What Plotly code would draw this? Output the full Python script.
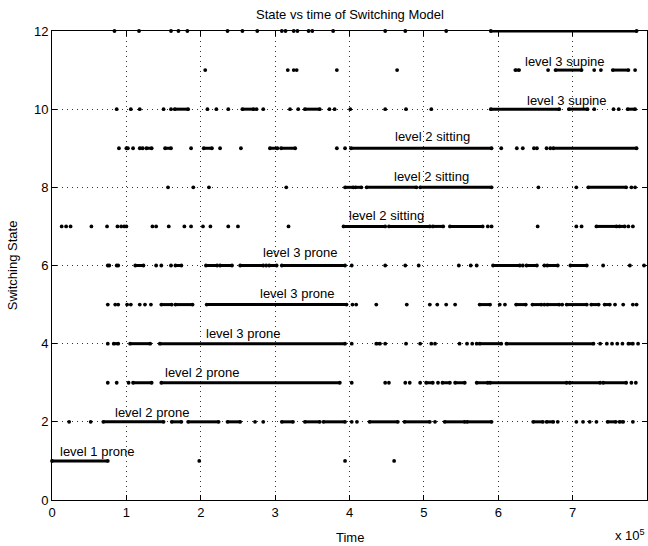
import plotly.graph_objects as go

# x values in units of 1e5 (axis shows "x 10^5"); a tuple is a dense run (start, end), a number is a single sample
x_ticks = [0, 1, 2, 3, 4, 5, 6, 7, 8]
y_ticks = [0, 2, 4, 6, 8, 10, 12]

state_1 = [(0.0, 0.75), 1.98, 3.94, 4.60]
state_2 = [0.23, 0.52, (0.69, 1.50), (1.61, 1.74), (1.83, 2.24), (2.36, 2.53), 2.73, 2.84,
           (3.09, 3.24), (3.40, 3.60), (3.65, 3.94), 4.03, 4.10, (4.27, 4.65), (4.74, 5.08), 5.15,
           (5.28, 5.55), (5.58, 5.91), (6.47, 6.60), (6.65, 6.74), 6.80, 7.05, 7.14, 7.23, 7.32,
           (7.47, 7.58), (7.63, 7.68), 7.81]
state_3 = [0.75, 0.87, 1.03, (1.09, 1.34), (1.47, 3.87), 4.03, 4.48, 4.53, 4.75, 4.81, 4.95,
           (5.03, 5.12), 5.19, (5.25, 5.35), (5.42, 5.55), (5.71, 5.86), (5.89, 6.92),
           (6.96, 7.37), (7.41, 7.72), 7.79, 7.85]
state_4 = [0.75, (0.83, 0.89), (1.05, 1.32), (1.45, 3.94), 4.03, (4.36, 4.41), 4.48, 4.76, 4.95,
           5.10, 5.15, 5.48, 5.58, 5.65, 5.71, (5.75, 6.04), (6.11, 7.28), 7.37, 7.46, 7.53,
           7.60, 7.67, (7.75, 7.81), 7.88]
state_5 = [0.75, 0.85, 0.89, 1.01, 1.06, 1.18, 1.25, 1.33, (1.47, 1.61), (1.66, 1.89),
           (2.08, 3.96), 4.04, 4.09, 4.36, 4.77, 5.08, 5.18, 5.30, 5.42, (5.75, 5.89), 6.02,
           6.09, (6.24, 6.37), (6.46, 6.58), 6.62, (6.66, 6.82), 6.86, (6.92, 7.19),
           (7.25, 7.35), (7.43, 7.50), 7.57, 7.68, 7.81, 7.86]
state_6 = [(0.75, 0.77), 0.87, 0.89, (1.12, 1.23), 1.40, 1.47, 1.60, (1.66, 1.74), (2.07, 2.22),
           (2.26, 2.42), (2.53, 2.84), 2.88, (2.92, 3.02), (3.09, 3.94), 4.03, 4.48, 4.75, 4.93,
           5.47, 5.63, 5.71, (5.93, 6.29), 6.33, (6.38, 6.52), 6.62, (6.66, 6.80), (6.97, 7.19),
           7.41, 7.77, 7.96]
state_7 = [0.13, 0.19, 0.25, 0.53, 0.74, 0.88, 0.93, 0.97, 1.00, 1.35, 1.40, 1.57, 1.78, 1.87,
           2.03, 2.13, 2.37, 2.50, 3.18, (3.92, 4.48), (4.53, 5.08), (5.12, 5.26), (5.35, 5.79),
           5.86, 5.91, 6.53, 7.05, 7.12, (7.32, 7.59), (7.63, 7.70), 7.75, 7.81]
state_8 = [1.56, 1.90, 2.11, 3.15, (3.94, 4.05), (4.08, 4.16), (4.23, 4.90), (4.95, 5.91), 6.54,
           7.05, (7.21, 7.72), 7.79, 7.84]
state_9 = [0.90, 1.00, 1.02, 1.09, (1.18, 1.22), (1.27, 1.34), (1.52, 1.60), 1.87, (2.04, 2.15),
           2.26, 2.54, (2.93, 3.03), (3.08, 3.27), 3.83, 3.94, (4.02, 5.91), 6.04, 6.25, 6.33,
           6.48, 6.52, 6.65, 6.70, (6.74, 7.86)]
state_10 = [0.87, 1.06, 1.18, 1.50, 1.60, (1.65, 1.83), 2.09, 2.21, 2.37, (2.56, 2.71), 2.75, 2.84,
            3.20, 3.31, (3.40, 3.60), 3.73, 3.80, 4.01, 4.48, 4.76, 5.10, (5.90, 6.82),
            (6.95, 7.20), 7.29, 7.55, 7.62, (7.74, 7.84)]
state_11 = [2.06, 3.17, 3.25, 3.29, 3.83, 4.64, (6.23, 6.28), 6.67, (6.77, 7.12), 7.29, 7.38,
            (7.54, 7.75), 7.84]
state_12 = [0.84, 1.17, 1.60, 1.70, 1.82, 2.36, 2.56, 2.76, 3.09, 3.14, 3.25, 3.30, 3.45, 3.50,
            3.78, 4.48, 4.75, 5.30, (5.90, 7.86)]

states = {1: state_1, 2: state_2, 3: state_3, 4: state_4, 5: state_5, 6: state_6,
          7: state_7, 8: state_8, 9: state_9, 10: state_10, 11: state_11, 12: state_12}

label_text = ["level 1 prone", "level 2 prone", "level 2 prone", "level 3 prone", "level 3 prone",
              "level 3 prone", "level 2 sitting", "level 2 sitting", "level 2 sitting",
              "level 3 supine", "level 3 supine", "level 3 supine"]
label_x = [0.61, 1.34, 2.02, 2.57, 3.30, 3.33, 4.50, 5.10, 5.12, 6.92, 6.90, 6.83]
label_y = [1.24, 2.24, 3.26, 4.26, 5.29, 6.33, 7.29, 8.29, 9.31, 10.23, 11.23, 12.28]

FONT = "Liberation Sans, Arial, Helvetica, sans-serif"
FS = 13

fig = go.Figure()
for lvl, segs in states.items():
    xs, ys = [], []
    for s in segs:
        if isinstance(s, tuple):
            xs += [s[0], s[1], None]
            ys += [lvl, lvl, None]
        else:
            xs += [s, None]
            ys += [lvl, None]
    fig.add_trace(go.Scatter(x=xs, y=ys, mode="lines+markers",
                             line=dict(color="black", width=3),
                             marker=dict(color="black", size=3.8),
                             showlegend=False, cliponaxis=False, connectgaps=False))

for t, x, y in zip(label_text, label_x, label_y):
    fig.add_annotation(x=x, y=y, text=t, showarrow=False, xanchor="center", yanchor="middle",
                       font=dict(family=FONT, size=FS, color="black"))

# title, axis titles, exponent
fig.add_annotation(xref="paper", yref="paper", x=0.5, y=1.036, text="State vs time of Switching Model",
                   showarrow=False, xanchor="center", yanchor="middle",
                   font=dict(family=FONT, size=FS, color="black"))
fig.add_annotation(xref="paper", yref="paper", x=0.5, y=-0.079, text="Time",
                   showarrow=False, xanchor="center", yanchor="middle",
                   font=dict(family=FONT, size=FS, color="black"))
fig.add_annotation(xref="paper", yref="paper", x=-0.066, y=0.5, text="Switching State",
                   showarrow=False, xanchor="center", yanchor="middle", textangle=-90,
                   font=dict(family=FONT, size=FS, color="black"))
fig.add_annotation(xref="paper", yref="paper", x=0.972, y=-0.075, text="x 10<sup>5</sup>",
                   showarrow=False, xanchor="center", yanchor="middle",
                   font=dict(family=FONT, size=FS, color="black"))

axis_common = dict(showline=True, linecolor="black", linewidth=1, mirror="ticks",
                   ticks="inside", ticklen=5, tickcolor="black", tickwidth=1,
                   showgrid=True, gridcolor="#333333", gridwidth=1, griddash="1px,4px",
                   zeroline=False, tickfont=dict(family=FONT, size=FS, color="black"))

fig.update_layout(
    width=648, height=546,
    margin=dict(l=52, r=1, t=31, b=46),
    paper_bgcolor="white", plot_bgcolor="white",
    xaxis=dict(range=[0, 8], tickvals=x_ticks, ticktext=[str(v) for v in x_ticks], **axis_common),
    yaxis=dict(range=[0, 12], tickvals=y_ticks, ticktext=[str(v) for v in y_ticks], **axis_common),
)

fig.write_html("out.html")
